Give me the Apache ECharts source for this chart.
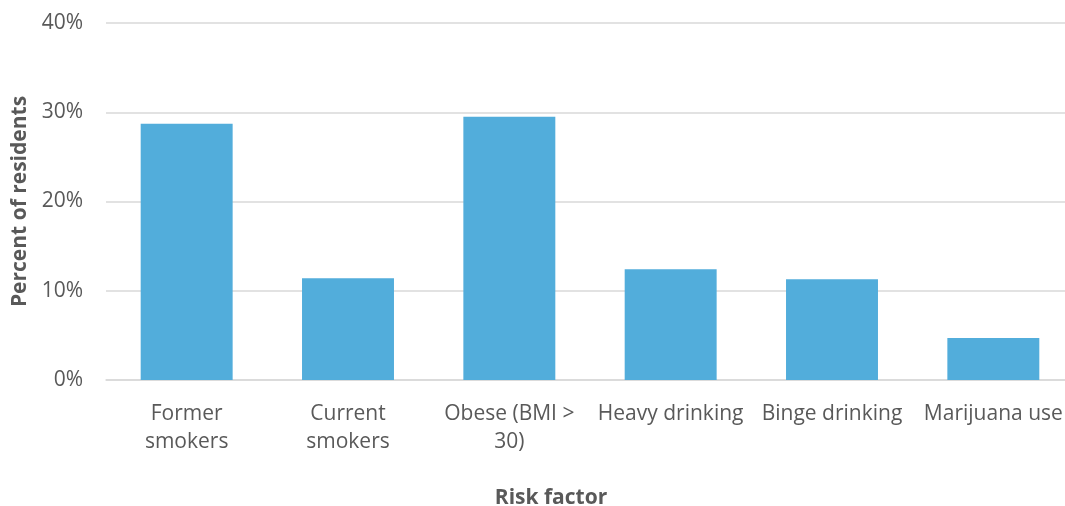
<!DOCTYPE html>
<html>
<head>
<meta charset="utf-8">
<script src="https://cdn.jsdelivr.net/npm/echarts@6/dist/echarts.min.js"></script>
<style>
  html, body { margin: 0; padding: 0; background: #fff; }
  #chart { width: 1065px; height: 506px; }
</style>
</head>
<body>
<div id="chart"></div>
<script>
// risk factor categories (with the line breaks of the original labels)
const categories = ['Former\nsmokers', 'Current\nsmokers', 'Obese (BMI >\n30)', 'Heavy drinking', 'Binge drinking', 'Marijuana use'];
// percent of residents
const values = [28.7, 11.4, 29.5, 12.4, 11.3, 4.7];
const yTicks = [0, 10, 20, 30, 40];

const textColor = '#595959';
const font = '"Open Sans", sans-serif';

const chart = echarts.init(document.getElementById('chart'));
chart.setOption({
    animation: false,
    textStyle: { fontFamily: font },
    grid: { left: 106, top: 23, width: 968, height: 357, outerBoundsMode: 'none', containLabel: false },
    xAxis: {
        type: 'category',
        data: categories,
        axisTick: { show: false },
        axisLine: { lineStyle: { color: '#d9d9d9', width: 1.5 } },
        axisLabel: {
            color: textColor,
            fontSize: 21,
            lineHeight: 28,
            margin: 20,
            interval: 0,
            hideOverlap: false,
            fontFamily: font
        }
    },
    yAxis: {
        type: 'value',
        min: yTicks[0],
        max: yTicks[yTicks.length - 1],
        interval: 10,
        name: 'Percent of residents',
        nameLocation: 'middle',
        nameGap: 75,
        nameTextStyle: { color: textColor, fontSize: 21, fontWeight: 'bold', fontFamily: font },
        axisLine: { show: false },
        axisTick: { show: false },
        axisLabel: {
            color: textColor,
            fontSize: 21,
            margin: 23,
            fontFamily: font,
            formatter: v => v + '%'
        },
        splitLine: { lineStyle: { color: '#d9d9d9', width: 1.5 } }
    },
    graphic: [{
        type: 'text',
        x: 551,
        y: 498,
        style: {
            text: 'Risk factor',
            fill: textColor,
            font: 'bold 21px "Open Sans", sans-serif',
            align: 'center',
            verticalAlign: 'middle'
        }
    }],
    series: [{
        type: 'bar',
        data: values,
        barCategoryGap: '43%',
        itemStyle: { color: '#52addb' }
    }]
});
</script>
</body>
</html>
